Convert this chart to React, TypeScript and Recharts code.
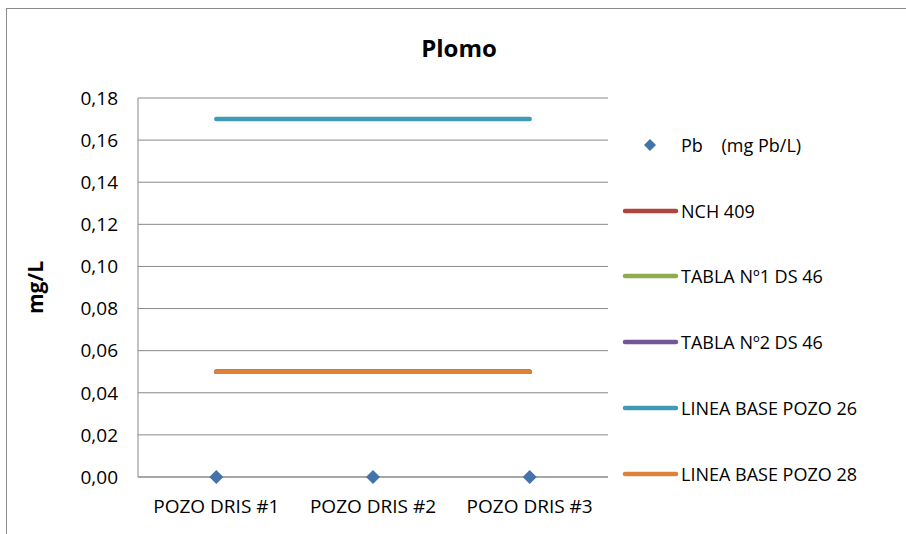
import React from "react";
import { ComposedChart, Line, XAxis, YAxis, CartesianGrid, Legend } from "recharts";

const categories = ["POZO DRIS #1", "POZO DRIS #2", "POZO DRIS #3"];
const pbValues = [0, 0, 0];
const nch409 = [0.05, 0.05, 0.05];
const tabla1 = [0.05, 0.05, 0.05];
const tabla2 = [0.05, 0.05, 0.05];
const lineaBase26 = [0.17, 0.17, 0.17];
const lineaBase28 = [0.05, 0.05, 0.05];
const yTicks = [0, 0.02, 0.04, 0.06, 0.08, 0.1, 0.12, 0.14, 0.16, 0.18];

const lineSeries = [
  { key: "nch", name: "NCH 409", color: "#B0453F", values: nch409 },
  { key: "t1", name: "TABLA Nº1 DS 46", color: "#8EAD4C", values: tabla1 },
  { key: "t2", name: "TABLA Nº2 DS 46", color: "#735696", values: tabla2 },
  { key: "lb26", name: "LINEA BASE POZO 26", color: "#3F9AB5", values: lineaBase26 },
  { key: "lb28", name: "LINEA BASE POZO 28", color: "#DE823A", values: lineaBase28 },
];
const pbName = "Pb    (mg Pb/L)";
const pbColor = "#4472AA";

const data = categories.map((c, i) => {
  const row: Record<string, string | number> = { cat: c, pb: pbValues[i] };
  lineSeries.forEach((s) => (row[s.key] = s.values[i]));
  return row;
});

const FONT = "'Open Sans', sans-serif";

function Diamond({ cx, cy, r = 7 }: { cx?: number; cy?: number; r?: number }) {
  if (cx == null || cy == null) return null;
  return (
    <polygon
      points={`${cx},${cy - r} ${cx + r},${cy} ${cx},${cy + r} ${cx - r},${cy}`}
      fill={pbColor}
    />
  );
}

function renderLegend() {
  const rowH = 65.8;
  return (
    <div style={{ fontFamily: FONT, fontSize: 18, color: "#000" }}>
      <div style={{ height: rowH, display: "flex", alignItems: "center", position: "relative" }}>
        <svg width={60} height={20} style={{ position: "absolute", left: 0, top: rowH / 2 - 10 }}>
          <polygon points="34,4 40,10 34,16 28,10" fill={pbColor} />
        </svg>
        <span style={{ position: "absolute", left: 65, whiteSpace: "pre" }}>{pbName}</span>
      </div>
      {lineSeries.map((s) => (
        <div key={s.key} style={{ height: rowH, position: "relative", display: "flex", alignItems: "center" }}>
          <svg width={64} height={20} style={{ position: "absolute", left: 0, top: rowH / 2 - 10 }}>
            <line x1={9} y1={10} x2={60} y2={10} stroke={s.color} strokeWidth={4.5} strokeLinecap="round" />
          </svg>
          <span style={{ position: "absolute", left: 65, whiteSpace: "pre" }}>{s.name}</span>
        </div>
      ))}
    </div>
  );
}

export default function App() {
  return (
    <div
      style={{
        position: "fixed",
        left: 0,
        top: 0,
        width: 906,
        height: 534,
        background: "#fff",
        overflow: "hidden",
      }}
    >
      <div
        style={{
          position: "absolute",
          left: 6,
          top: 8,
          width: 1000,
          height: 1000,
          border: "1.5px solid #8a8a8a",
        }}
      />
      <div
        style={{
          position: "absolute",
          left: 0,
          width: 918,
          top: 31,
          textAlign: "center",
          fontFamily: FONT,
          fontWeight: 700,
          fontSize: 24,
          lineHeight: "34px",
          color: "#000",
        }}
      >
        Plomo
      </div>
      <ComposedChart
        width={906}
        height={534}
        data={data}
        margin={{ top: 98, right: 298, bottom: 27, left: 20 }}
        style={{ position: "absolute", left: 0, top: 0 }}
      >
        <CartesianGrid vertical={false} stroke="#898989" strokeWidth={1} />
        <XAxis
          dataKey="cat"
          scale="band"
          height={30}
          tickLine={false}
          tickSize={0}
          tickMargin={23}
          stroke="#898989"
          tick={{ fill: "#000", fontSize: 19, fontFamily: FONT }}
        />
        <YAxis
          width={118}
          domain={[0, 0.18]}
          ticks={yTicks}
          interval={0}
          tickLine={false}
          tickSize={0}
          tickMargin={20}
          stroke="#898989"
          tick={{ fill: "#000", fontSize: 19, fontFamily: FONT }}
          tickFormatter={(v: number) => v.toFixed(2).replace(".", ",")}
          label={{
            content: (props: any) => {
              const vb = props.viewBox || {};
              const cx = (vb.x ?? 0) + 15;
              const cy = (vb.y ?? 0) + (vb.height ?? 0) / 2;
              return (
                <text
                  x={cx}
                  y={cy}
                  transform={`rotate(-90, ${cx}, ${cy})`}
                  textAnchor="middle"
                  dominantBaseline="central"
                  fontFamily={FONT}
                  fontWeight={700}
                  fontSize={21}
                  fill="#000"
                >
                  mg/L
                </text>
              );
            },
          }}
        />
        <Legend
          layout="horizontal"
          verticalAlign="middle"
          align="center"
          content={renderLegend}
          wrapperStyle={{ left: 616, top: 112, width: 290 }}
        />
        <Line
          dataKey="pb"
          name={pbName}
          stroke="none"
          isAnimationActive={false}
          dot={(p: any) => <Diamond key={`d${p.index}`} cx={p.cx} cy={p.cy} />}
          activeDot={false}
        />
        {lineSeries.map((s) => (
          <Line
            key={s.key}
            dataKey={s.key}
            name={s.name}
            stroke={s.color}
            strokeWidth={4.5}
            strokeLinecap="round"
            dot={false}
            activeDot={false}
            isAnimationActive={false}
          />
        ))}
      </ComposedChart>
    </div>
  );
}
